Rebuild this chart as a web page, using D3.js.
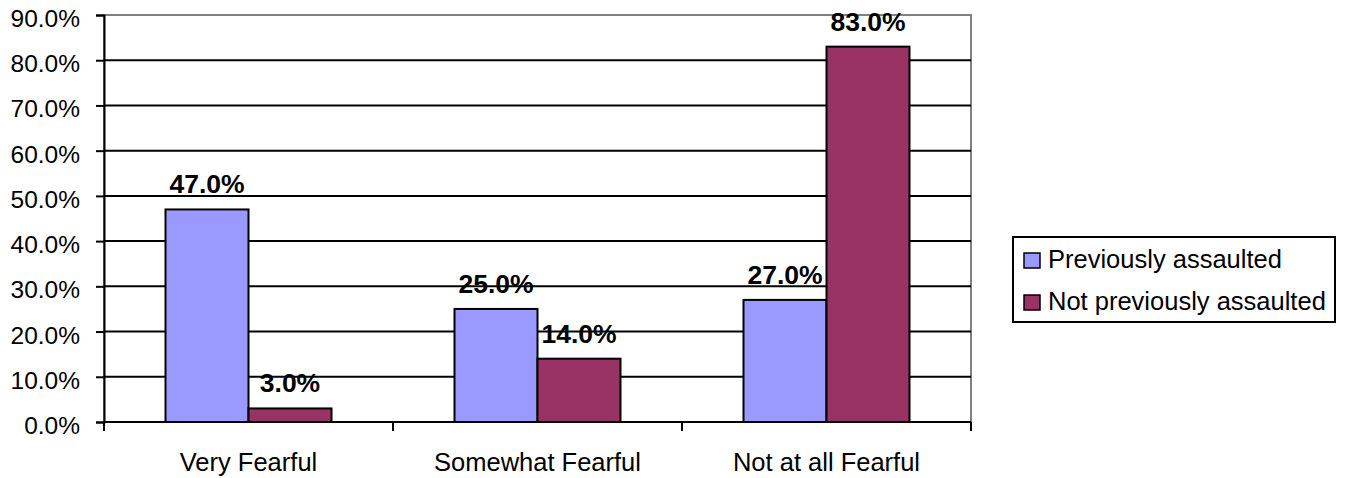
<!DOCTYPE html>
<html>
<head>
<meta charset="utf-8">
<script src="https://cdn.jsdelivr.net/npm/d3@7"></script>
<style>
  html, body { margin: 0; padding: 0; background: #ffffff; }
  svg { display: block; font-family: "Liberation Sans", Arial, sans-serif; }
</style>
</head>
<body>
<svg id="chart" width="1345" height="478"></svg>
<script>
// Fear levels by assault history
const categories = ["Very Fearful", "Somewhat Fearful", "Not at all Fearful"];
const seriesNames = ["Previously assaulted", "Not previously assaulted"];
const previouslyAssaulted = [0.47, 0.25, 0.27];
const notPreviouslyAssaulted = [0.03, 0.14, 0.83];
const yTicks = [0, 0.1, 0.2, 0.3, 0.4, 0.5, 0.6, 0.7, 0.8, 0.9];
const colors = ["#9999FF", "#993366"];

const seriesValues = [previouslyAssaulted, notPreviouslyAssaulted];
const fmt = d3.format(".1%");

const svg = d3.select("#chart");
const plot = { left: 104, right: 971, top: 15, bottom: 422 };

const y = d3.scaleLinear().domain([0, 0.9]).range([plot.bottom, plot.top]);
const x0 = d3.scaleBand().domain(categories).range([plot.left, plot.right]).padding(0);
const x1 = d3.scaleBand().domain(seriesNames).range([0, x0.bandwidth()])
  .paddingInner(0).paddingOuter(0.741);

// plot area frame (top and right edges visible in grey)
svg.append("rect")
  .attr("x", plot.left).attr("y", plot.top)
  .attr("width", plot.right - plot.left).attr("height", plot.bottom - plot.top)
  .attr("fill", "none").attr("stroke", "#808080").attr("stroke-width", 2);

// horizontal gridlines
svg.append("g")
  .selectAll("line")
  .data(yTicks.filter(t => t > 0 && t < 0.9))
  .join("line")
  .attr("x1", plot.left).attr("x2", plot.right)
  .attr("y1", d => y(d)).attr("y2", d => y(d))
  .attr("stroke", "#000").attr("stroke-width", 2);

// bars
const groups = svg.append("g")
  .selectAll("g")
  .data(categories)
  .join("g")
  .attr("transform", d => `translate(${x0(d)},0)`);

groups.selectAll("rect")
  .data((c, i) => seriesNames.map((s, j) => ({ s, j, v: seriesValues[j][i] })))
  .join("rect")
  .attr("x", d => x1(d.s))
  .attr("y", d => y(d.v))
  .attr("width", x1.bandwidth())
  .attr("height", d => y(0) - y(d.v))
  .attr("fill", d => colors[d.j])
  .attr("stroke", "#000").attr("stroke-width", 2);

// value labels
groups.selectAll("text")
  .data((c, i) => seriesNames.map((s, j) => ({ s, j, v: seriesValues[j][i] })))
  .join("text")
  .attr("x", d => x1(d.s) + x1.bandwidth() / 2)
  .attr("y", d => y(d.v) - 16)
  .attr("text-anchor", "middle")
  .attr("font-size", 26.5)
  .attr("font-weight", "bold")
  .attr("fill", "#000")
  .text(d => fmt(d.v));

// y axis
const yAxis = svg.append("g")
  .attr("transform", `translate(${plot.left},0)`)
  .call(d3.axisLeft(y).tickValues(yTicks).tickFormat(fmt).tickSize(8).tickPadding(16));
yAxis.select(".domain").attr("stroke", "#000").attr("stroke-width", 2);
yAxis.selectAll(".tick line").attr("stroke", "#000").attr("stroke-width", 2);
yAxis.selectAll(".tick text")
  .attr("font-size", 24.5)
  .attr("font-family", "'Liberation Sans', Arial, sans-serif")
  .attr("fill", "#000")
  .attr("dy", "0.47em");

// x axis with ticks between categories
const xAxisG = svg.append("g").attr("transform", `translate(0,${plot.bottom})`);
xAxisG.append("line")
  .attr("x1", plot.left).attr("x2", plot.right)
  .attr("stroke", "#000").attr("stroke-width", 2);
const boundaries = categories.map(c => x0(c)).concat([x0(categories[categories.length - 1]) + x0.bandwidth()]);
xAxisG.selectAll("line.tick")
  .data(boundaries)
  .join("line")
  .attr("class", "tick")
  .attr("x1", d => d).attr("x2", d => d)
  .attr("y1", 0).attr("y2", 9)
  .attr("stroke", "#000").attr("stroke-width", 2);
xAxisG.selectAll("text")
  .data(categories)
  .join("text")
  .attr("x", d => x0(d) + x0.bandwidth() / 2)
  .attr("y", 49)
  .attr("text-anchor", "middle")
  .attr("font-size", 25.5)
  .attr("fill", "#000")
  .text(d => d);

// legend
const legend = svg.append("g");
legend.append("rect")
  .attr("x", 1013).attr("y", 237)
  .attr("width", 322).attr("height", 85)
  .attr("fill", "#fff").attr("stroke", "#000").attr("stroke-width", 2);
const items = legend.selectAll("g.item")
  .data(seriesNames)
  .join("g")
  .attr("class", "item")
  .attr("transform", (d, i) => `translate(1024,${253 + i * 42})`);
items.append("rect")
  .attr("width", 16).attr("height", 15)
  .attr("fill", (d, i) => colors[i])
  .attr("stroke", "#000").attr("stroke-width", 1.5);
items.append("text")
  .attr("x", 24).attr("y", 15)
  .attr("font-size", 25.5)
  .attr("fill", "#000")
  .text(d => d);
</script>
</body>
</html>
